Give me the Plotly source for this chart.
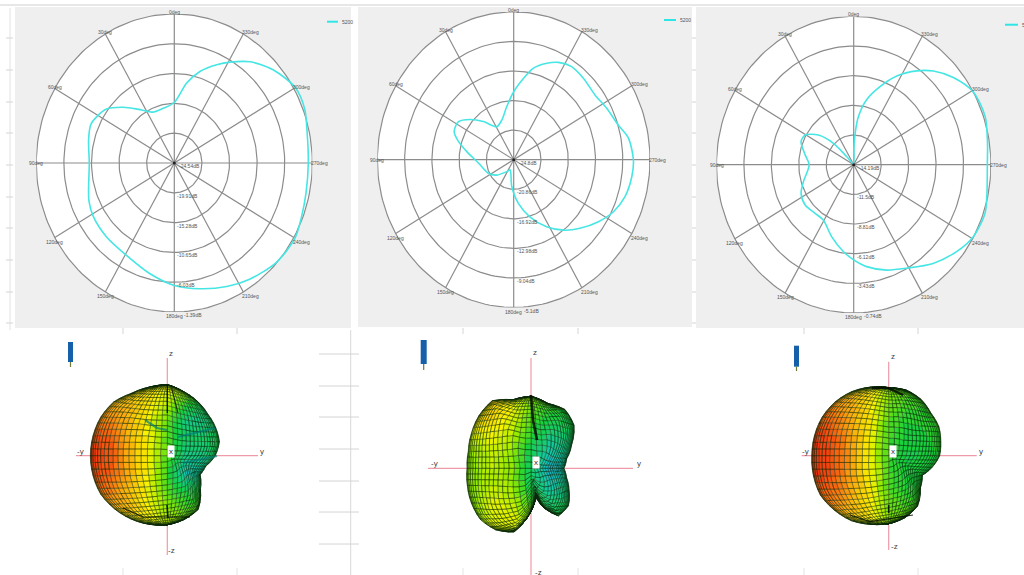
import numpy as np
import plotly.graph_objects as go

# ---------- polar data (angle in deg, gain in dB) ----------
A1 = [0,350.5,343,335,329,321,311,300,291,282,270,258,248.6,240,228,215,204.6,192.4,180,166.7,150.8,135.3,121.7,112,90,76,67,61,53.6,44.7,34.7,24,12.3]
G1 = [-15.14,-11.95,-9.63,-7.69,-6.25,-4.31,-2.50,-1.11,-1.11,-1.76,-2.06,-1.95,-1.62,-1.16,-1.48,-2.50,-3.43,-4.54,-5.51,-6.85,-8.10,-8.38,-8.61,-9.08,-10.28,-9.72,-9.31,-9.68,-10.42,-12.36,-14.45,-15.88,-15.84]
A2 = [360,352.6,347,339.6,333.5,326,317,306,297,287,280,270,262.4,253,244.3,236,226.3,217.4,208,197,186.6,175.6,159,147.7,130,116,95,81,73,66.5,57.6,49.6,40.7,29,18,8.2]
G2 = [-15.74,-13.89,-12.31,-11.09,-10.30,-9.83,-9.99,-10.22,-9.71,-9.0,-7.98,-7.50,-7.58,-7.98,-8.80,-10.03,-11.56,-12.98,-14.67,-16.84,-18.93,-21.21,-23.34,-22.91,-21.61,-20.70,-19.68,-17.94,-16.45,-15.42,-15.34,-16.53,-18.10,-19.76,-19.24,-17.67]
A3 = [359,356.6,354,348,340,332.3,324,317.4,309,299.4,288.7,278.4,270,258.7,251,240.9,232,221,209,198.7,187.8,180,172.6,161.8,149.3,139.3,127.5,116.8,107.3,90,79.4,67.9,60.5,52.2,45.8,43,20]
G3 = [-12.58,-11.04,-9.81,-8.19,-6.66,-5.10,-3.67,-2.65,-1.63,-0.74,-0.58,-0.93,-1.09,-0.87,-0.58,-0.77,-1.39,-2.33,-3.46,-4.10,-4.86,-5.56,-6.25,-7.30,-8.35,-8.38,-8.19,-8.41,-9.03,-9.83,-9.35,-8.62,-8.73,-9.81,-11.42,-13.2,-14.06]

TICKS1 = [-24.54,-19.91,-15.28,-10.65,-6.03,-1.39]
TICKS2 = [-24.8,-20.86,-16.92,-12.98,-9.04,-5.1]
TICKS3 = [-14.19,-11.5,-8.81,-6.12,-3.43,-0.74]
ANGLE_LABELS = ["0deg","30deg","60deg","90deg","120deg","150deg","180deg","210deg","240deg","270deg","300deg","330deg"]
LEGEND_NAME = "5200"

# ---------- 3D-pattern outlines: direction (deg) -> radius ----------
ALPHA = [0,15,30,45,60,75,90,105,120,135,150,165,180,195,210,225,240,255,270,285,300,315,330,345]
S1 = [48,54,56,58,62,66,71,71,72,76,77,77,77,77,77,75,73,71,69,66,62,47,38,40]
S3 = [51,54,58,60,65,68,68,71,74,76,77,77,77,78,79,77,75,71,68,64,58,45,39,45]
ALPHA2 = [0,15,30,45,60,75,90,105,120,135,150,165,180,195,210,225,240,255,270,277,282,285,300,315,330,345]
S2 = [33,37,47,61,68,67,72,71,78,74,69,65,64,66,69,72,71,66,43,33,27,38,55,53,44,37]

# gain colour read across each lobe (rows top to bottom, columns -y to y)
C1 = [[.72,.72,.72,.68,.62,.55,.5,.5,.5],[.78,.78,.74,.65,.55,.38,.3,.4,.45],[.88,.85,.75,.62,.45,.22,.22,.32,.42],
      [.97,.92,.75,.62,.42,.27,.27,.33,.38],[1,.94,.76,.62,.42,.22,.22,.33,.38],[.97,.92,.76,.62,.38,.12,.15,.33,.38],
      [.9,.86,.74,.6,.42,.32,.35,.38,.38],[.82,.8,.74,.63,.5,.42,.42,.42,.42],[.72,.72,.68,.63,.57,.5,.5,.5,.5]]
C2 = [[.65,.7,.72,.62,.5,.42,.4,.38,.38],[.65,.7,.68,.6,.42,.35,.33,.33,.33],[.55,.6,.62,.55,.38,.25,.28,.33,.33],
      [.5,.52,.56,.5,.3,.15,.2,.28,.3],[.5,.5,.55,.48,.28,.05,.12,.2,.25],[.5,.5,.55,.5,.3,.15,.2,.25,.28],
      [.5,.5,.6,.55,.4,.25,.28,.3,.32],[.45,.5,.6,.6,.5,.35,.32,.33,.35],[.5,.55,.6,.6,.55,.4,.35,.35,.35]]
C3 = [[.78,.78,.74,.68,.52,.45,.45,.47,.47],[.88,.85,.78,.66,.46,.4,.4,.44,.5],[.95,.9,.78,.64,.42,.36,.37,.42,.47],
      [1,.94,.8,.63,.4,.34,.35,.4,.44],[1,.95,.8,.62,.38,.32,.33,.38,.44],[1,.94,.8,.63,.4,.34,.35,.4,.44],
      [.95,.9,.78,.64,.42,.36,.37,.42,.47],[.88,.85,.76,.65,.46,.42,.44,.47,.47],[.78,.75,.72,.65,.52,.5,.5,.5,.5]]

# dark folds seen on the lobes: (colour, width, [(x, y), ...])
DARK = "rgba(5,15,5,0.85)"
TEAL = "rgba(0,125,115,0.7)"
FOLDS1 = [(DARK,1.4,[(167.3,385),(167.3,413)]),(DARK,1,[(171.7,388),(178,413)]),
          (TEAL,2.2,[(145,420),(157,428),(167,430)]),(TEAL,2,[(178,437),(197,432),(215,428)]),
          (TEAL,2.2,[(183,463),(197,460),(217,456)]),(DARK,1.6,[(167,505),(168,518)]),
          (DARK,1.2,[(123,508),(143,517),(167,517),(190,517)])]
FOLDS2 = [(DARK,2.6,[(531,395),(533,420),(537,440)])]
FOLDS3 = [(DARK,2.4,[(872,388),(888,388),(903,395)]),(DARK,1.6,[(888.7,505),(888.7,513)]),
          (DARK,1.2,[(850,515),(870,521.7),(913,515)])]

W, H = 1024, 575
fig = go.Figure()
shapes, annots = [], []

def line(xs, ys, color, width=1, **kw):
    fig.add_trace(go.Scatter(x=xs, y=ys, mode="lines", line=dict(color=color, width=width),
                             hoverinfo="skip", showlegend=False, **kw))

# full-page axis in pixel units
fig.update_layout(
    xaxis=dict(domain=[0, 1], range=[0, W], visible=False, fixedrange=True),
    yaxis=dict(domain=[0, 1], range=[H, 0], visible=False, fixedrange=True),
)

def rect(x0, y0, x1, y1, color):
    shapes.append(dict(type="rect", xref="x", yref="y", x0=x0, y0=y0, x1=x1, y1=y1,
                       fillcolor=color, line_width=0, layer="below"))

def seg(x0, y0, x1, y1, color="#d4d4d4", w=1):
    shapes.append(dict(type="line", xref="x", yref="y", x0=x0, y0=y0, x1=x1, y1=y1,
                       line=dict(color=color, width=w), layer="below"))

# panels and stray ruler furniture of the screenshot
rect(15, 7, 351, 328, "#efefef")
rect(358, 7, 692, 327, "#efefef")
rect(696, 7, 1024, 328, "#efefef")
seg(0, 5, W, 5, "#cfcfcf")
seg(10, 8, 10, 330, "#e2e2e2")
for v in [38,70,102,133,165,197,228,260,292,323]:
    seg(6, v, 13, v)
    seg(692, v, 696, v)
for v in [123,237,463,578,804,918]:
    seg(v, 328, v, 334)
    seg(v, 568, v, 575, "#e4e4e4")
seg(350.7, 330, 350.7, 575, "#d8d8d8")
for v in [354,386,417,449,481,512,544]:
    seg(319, v, 359, v)

# ---------- polar panels ----------
PANELS = [
    (174.3, 163.0, 138.0, 149.0, A1, G1, TICKS1, (327, 338, 21.7)),
    (513.7, 159.7, 136.3, 147.8, A2, G2, TICKS2, (664, 676, 20.0)),
    (853.7, 164.7, 137.2, 148.3, A3, G3, TICKS3, (1005, 1018, 24.7)),
]
tt = np.radians(np.arange(0, 361, 2))
for i, (cx, cy, rx, ry, ang, gain, ticks, leg) in enumerate(PANELS):
    n = i + 2
    ax = f"x{n}"; ay = f"y{n}"
    fig.layout[f"xaxis{n}"] = dict(domain=[(cx-rx)/W, (cx+rx)/W], range=[-5, 5], visible=False, fixedrange=True)
    fig.layout[f"yaxis{n}"] = dict(domain=[1-(cy+ry)/H, 1-(cy-ry)/H], range=[-5, 5], visible=False, fixedrange=True)
    fig.add_trace(go.Scatter(x=5*np.sin(tt), y=5*np.cos(tt), mode="lines", fill="toself", fillcolor="white",
                             line=dict(color="#8c8c8c", width=1.2), xaxis=ax, yaxis=ay,
                             hoverinfo="skip", showlegend=False))
    for r in range(1, 5):
        line(r*np.sin(tt), r*np.cos(tt), "#8c8c8c", 1.2, xaxis=ax, yaxis=ay)
    for d in range(0, 180, 30):
        t = np.radians(d)
        line([-5*np.sin(t), 5*np.sin(t)], [-5*np.cos(t), 5*np.cos(t)], "#8c8c8c", 1.2, xaxis=ax, yaxis=ay)
    step = (ticks[-1]-ticks[0])/5
    u = (np.array(gain+gain[:1])-ticks[0])/step
    th = np.radians(np.array(ang+ang[:1]))
    # angles run counter-clockwise from the top
    fig.add_trace(go.Scatter(x=-u*np.sin(th), y=u*np.cos(th), mode="lines",
                             line=dict(color="#45e6e4", width=1.6, shape="spline", smoothing=0.8),
                             xaxis=ax, yaxis=ay, name=LEGEND_NAME, hoverinfo="skip", showlegend=False))
    fig.add_trace(go.Scatter(x=[0], y=[0], mode="markers", marker=dict(color="#222", size=3),
                             xaxis=ax, yaxis=ay, hoverinfo="skip", showlegend=False))
    for k, lab in enumerate(ANGLE_LABELS):
        t = np.radians(30*k)
        right = 180 < 30*k
        annots.append(dict(x=-5*np.sin(t), y=5*np.cos(t), xref=ax, yref=ay, text=lab, showarrow=False,
                           xanchor="left" if right else "center", yanchor="middle",
                           xshift=-3 if right else 0, yshift=2 if np.cos(t) > 0.01 else (0 if abs(np.cos(t)) < .01 else -4),
                           font=dict(size=5, color="#555", family="Liberation Sans")))
    for r, v in enumerate(ticks):
        annots.append(dict(x=0, y=-r, xref=ax, yref=ay, text=f"{v}dB", showarrow=False, xanchor="left",
                           yanchor="middle", xshift=8 if r == 5 else (1 if r else 3), yshift=-3,
                           font=dict(size=5, color="#555", family="Liberation Sans")))
    seg(leg[0], leg[2], leg[1], leg[2], "#2fe6e6", 2)
    annots.append(dict(x=leg[1]+2, y=leg[2], xref="x", yref="y", text=LEGEND_NAME, showarrow=False,
                       xanchor="left", yanchor="middle", font=dict(size=5, color="#555", family="Liberation Sans")))

# ---------- lobes ----------
STOPS = [(0,(30,160,225)),(.15,(20,200,175)),(.35,(25,210,60)),(.5,(150,235,0)),(.62,(250,245,0)),(.8,(250,160,15)),(1,(245,50,15))]
def cmap(v):
    p = [s[0] for s in STOPS]
    return tuple(int(np.interp(v, p, [s[1][c] for s in STOPS])) for c in range(3))

def sample(m, Y, Z):
    m = np.array(m)
    c = np.clip((Y+75)/150*8, 0, 7.999); r = np.clip((70-Z)/140*8, 0, 7.999)
    c0, r0 = int(c), int(r); a, b = c-c0, r-r0
    return (m[r0,c0]*(1-a)*(1-b)+m[r0,c0+1]*a*(1-b)+m[r0+1,c0]*(1-a)*b+m[r0+1,c0+1]*a*b)

def lobe(cx, cy, alpha, radii, colours):
    az = np.radians(np.arange(-90, 91, 5)); el = np.radians(np.arange(-90, 91, 5))
    AZ, EL = np.meshgrid(az, el)
    y = np.cos(EL)*np.sin(AZ); z = np.sin(EL)
    rho = np.hypot(y, z); a = np.degrees(np.arctan2(z, y)) % 360
    s = np.interp(a, alpha+[360], radii+radii[:1])
    Y = rho*s*np.cos(np.radians(a)); Z = rho*s*np.sin(np.radians(a))
    buckets = {}
    for i in range(Y.shape[0]-1):
        for j in range(Y.shape[1]-1):
            qx = [Y[i,j],Y[i,j+1],Y[i+1,j+1],Y[i+1,j]]; qz = [Z[i,j],Z[i,j+1],Z[i+1,j+1],Z[i+1,j]]
            v = sample(colours, np.mean(qx), np.mean(qz))
            k = round(v*32)
            b = buckets.setdefault(k, ([], []))
            b[0].extend([cx+q for q in qx]+[cx+qx[0], None])
            b[1].extend([cy-q for q in qz]+[cy-qz[0], None])
    for k, (xs, ys) in sorted(buckets.items()):
        col = "rgb(%d,%d,%d)" % cmap(k/32)
        fig.add_trace(go.Scatter(x=xs, y=ys, mode="lines", fill="toself", fillcolor=col,
                                 line=dict(color="rgba(10,40,10,0.65)", width=0.6),
                                 hoverinfo="skip", showlegend=False))

PINK = "#ee9aa8"
LOBES = [
    dict(c=(167.3,455.7), al=ALPHA, s=S1, m=C1, yax=(76,258), zax=(358,555), box=(170.7,451), folds=FOLDS1,
         lab=[("z",170.7,353),("-z",171.7,550),("-y",80.7,451.7),("y",262,451.7)], icon=(68,73,342,362,367)),
    dict(c=(531,468.3), al=ALPHA2, s=S2, m=C2, yax=(428,633), zax=(358,575), box=(535.7,462.7), folds=FOLDS2,
         lab=[("z",535,352.7),("-z",538,572),("-y",434,463),("y",638.7,463)], icon=(420.7,426.7,340,364,370)),
    dict(c=(888.7,455.7), al=ALPHA, s=S3, m=C3, yax=(801.7,976.7), zax=(361.7,550), box=(892.7,451), folds=FOLDS3,
         lab=[("z",892.7,356.7),("-z",894,546.7),("-y",805,451.7),("y",980.7,451.7)], icon=(794,799,345.7,366.7,371)),
]
for L in LOBES:
    cx, cy = L["c"]
    line(list(L["yax"]), [cy, cy], PINK, 1.2)
    line([cx, cx], list(L["zax"]), PINK, 1.2)
    lobe(cx, cy, L["al"], L["s"], L["m"])
    for col, wid, pts in L["folds"]:
        line([p[0] for p in pts], [p[1] for p in pts], col, wid)
    bx, by = L["box"]
    annots.append(dict(x=bx, y=by, xref="x", yref="y", text="x", showarrow=False, bgcolor="white",
                       font=dict(size=8, color="#333", family="Liberation Sans"), borderpad=1))
    for t, x, y in L["lab"]:
        annots.append(dict(x=x, y=y, xref="x", yref="y", text=t, showarrow=False,
                           font=dict(size=8, color="#444", family="Liberation Sans")))
    x0, x1, y0, y1, y2 = L["icon"]
    rect(x0, y0, x1, y1, "#1560a8")
    seg((x0+x1)/2, y1, (x0+x1)/2, y2, "#6f7a30", 1.2)

fig.update_layout(width=W, height=H, margin=dict(l=0, r=0, t=0, b=0), plot_bgcolor="rgba(0,0,0,0)", paper_bgcolor="white",
                  shapes=shapes, annotations=annots, showlegend=False)
fig.write_html("out.html", config=dict(displayModeBar=False), post_script="document.body.style.margin='0';")
